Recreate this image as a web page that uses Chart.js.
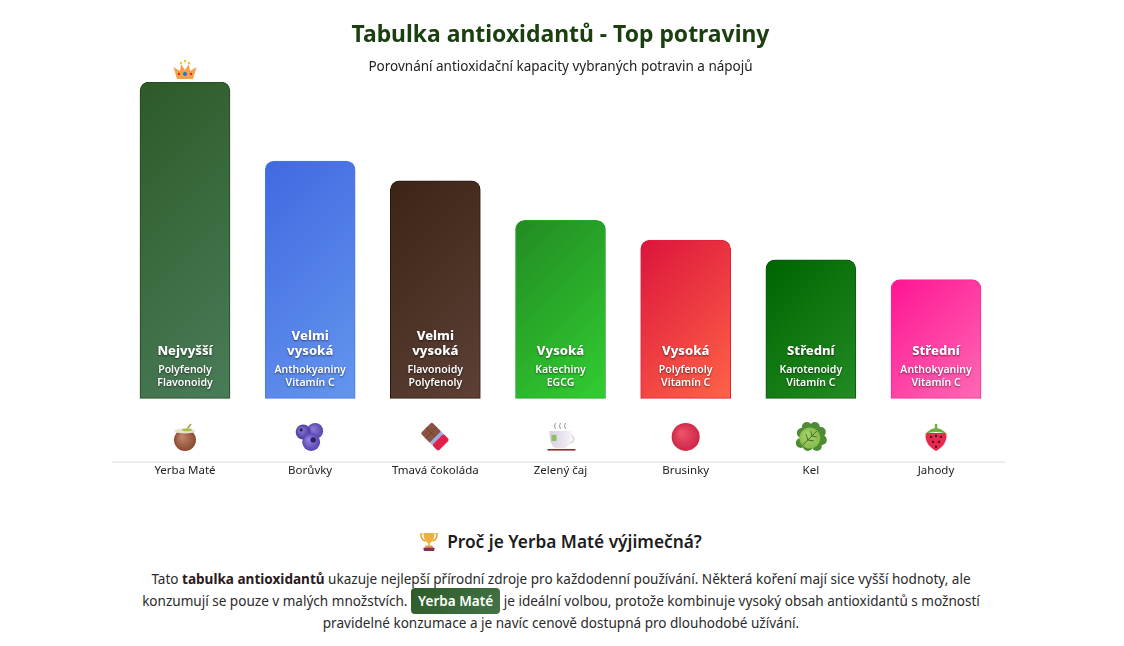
<!DOCTYPE html>
<html lang="cs">
<head>
<meta charset="utf-8">
<title>Tabulka antioxidantů</title>
<script src="https://cdn.jsdelivr.net/npm/chart.js@4/dist/chart.umd.min.js"></script>
<style>
  html, body { margin: 0; padding: 0; background: #fff; overflow: hidden; }
  body { width: 1124px; height: 646px; position: relative; font-family: "Noto Sans", sans-serif; color: #222; }
  #antioxChart { position: absolute; left: 0; top: 0; }
  #why { position: absolute; left: 0; top: 529px; width: 1122px; text-align: center; }
  #why h3 { margin: 0 0 13px; font-size: 17.3px; line-height: 26px; font-weight: 600; color: #1c1c1c; }
  #why h3 svg { vertical-align: -5px; margin-right: 9px; }
  #why p { margin: 0; font-size: 13.55px; line-height: 22px; color: #2a2a2a; }
  #why b { color: #2a1a20; }
  .badge { padding: 4px 7px; border-radius: 4px; color: #fff; font-weight: 600;
    background: linear-gradient(135deg, #2d5a27, #437448); }
</style>
</head>
<body>
<canvas id="antioxChart" width="1124" height="490"></canvas>
<div id="why">
  <h3><svg width="18" height="22" viewBox="0 0 20 22"><path d="M3 2H1c0 5 2 7 5 8M17 2h2c0 5-2 7-5 8" fill="none" stroke="#e0a030" stroke-width="1.6"/><path d="M4 1h12c0 7-2 10-5 11v3H9v-3C6 11 4 8 4 1z" fill="#f0b040"/><rect x="6" y="15" width="8" height="2" fill="#d89830"/><rect x="4" y="17" width="12" height="4" rx="1" fill="#8e2a4a"/></svg>Proč je Yerba Maté výjimečná?</h3>
  <p>Tato <b>tabulka antioxidantů</b> ukazuje nejlepší přírodní zdroje pro každodenní používání. Některá koření mají sice vyšší hodnoty, ale<br>
  konzumují se pouze v malých množstvích. <span class="badge">Yerba Maté</span> je ideální volbou, protože kombinuje vysoký obsah antioxidantů s možností<br>
  pravidelné konzumace a je navíc cenově dostupná pro dlouhodobé užívání.</p>
</div>
<script>
// chart data
const foods = ['Yerba Maté', 'Borůvky', 'Tmavá čokoláda', 'Zelený čaj', 'Brusinky', 'Kel', 'Jahody'];
const capacity = [80, 60, 55, 45, 40, 35, 30];
const levels = [['Nejvyšší'], ['Velmi', 'vysoká'], ['Velmi', 'vysoká'], ['Vysoká'], ['Vysoká'], ['Střední'], ['Střední']];
const compounds = [
  ['Polyfenoly', 'Flavonoidy'],
  ['Anthokyaniny', 'Vitamín C'],
  ['Flavonoidy', 'Polyfenoly'],
  ['Katechiny', 'EGCG'],
  ['Polyfenoly', 'Vitamín C'],
  ['Karotenoidy', 'Vitamín C'],
  ['Anthokyaniny', 'Vitamín C']
];

// bar colours
const colorFrom = ['#2d5a27', '#4169e1', '#3c2415', '#228b22', '#dc143c', '#006400', '#ff1493'];
const colorTo = ['#4a7c59', '#6495ed', '#5d4037', '#32cd32', '#ff6347', '#228b22', '#ff69b4'];
const colorEdge = ['#1f4a1c', '#4a78e4', '#2c170d', '#2aa52a', '#e0203f', '#0b5a0b', '#f82a98'];

const FONT = '"Noto Sans", sans-serif';

function barGradient(context) {
  const chart = context.chart;
  const i = context.dataIndex;
  if (!chart.chartArea) return colorFrom[i];
  const x = chart.scales.x.getPixelForValue(i);
  const top = chart.scales.y.getPixelForValue(capacity[i]);
  const base = chart.scales.y.getPixelForValue(0);
  const w = 90, h = base - top;
  const d = (w + h) / 4, cy = (top + base) / 2;
  const g = chart.ctx.createLinearGradient(x - d, cy - d, x + d, cy + d);
  g.addColorStop(0, colorFrom[i]);
  g.addColorStop(1, colorTo[i]);
  return g;
}

// little pictures instead of emoji, all drawn around (0,0)
function ball(c, x, y, r, light, dark) {
  const g = c.createRadialGradient(x - r * 0.3, y - r * 0.3, r * 0.1, x, y, r);
  g.addColorStop(0, light);
  g.addColorStop(1, dark);
  c.fillStyle = g;
  c.beginPath();
  c.arc(x, y, r, 0, Math.PI * 2);
  c.fill();
}

const icons = [
  function mate(c) {
    c.strokeStyle = '#a8a040'; c.lineWidth = 1.5;
    c.beginPath(); c.moveTo(2, -8); c.lineTo(6, -13); c.stroke();
    ball(c, 0, 3, 11, '#c08468', '#8a4a30');
    c.fillStyle = '#e8e0d0';
    c.beginPath(); c.ellipse(0, -6, 10.5, 2.6, 0, 0, Math.PI * 2); c.fill();
    c.fillStyle = '#a8c048';
    c.beginPath(); c.ellipse(2, -7, 5, 1.4, 0, 0, Math.PI * 2); c.fill();
  },
  function blueberry(c) {
    ball(c, 5, -6, 8, '#8a78d8', '#5a44a8');
    ball(c, -7, -5, 7.5, '#8a78d8', '#4a38a0');
    ball(c, 1, 5, 9, '#9080e0', '#5a44b0');
    c.fillStyle = '#2c2060';
    c.beginPath(); c.arc(-9, -7, 1.6, 0, Math.PI * 2); c.fill();
    c.beginPath(); c.arc(3, 3, 2.6, 0, Math.PI * 2); c.fill();
  },
  function chocolate(c) {
    c.save();
    c.rotate(-Math.PI / 4);
    c.fillStyle = '#8a5240';
    c.beginPath(); c.roundRect(-8, -13, 16, 14, 2); c.fill();
    c.strokeStyle = '#6e3e30'; c.lineWidth = 0.8;
    c.beginPath(); c.moveTo(0, -13); c.lineTo(0, 0); c.moveTo(-8, -6); c.lineTo(8, -6); c.stroke();
    c.fillStyle = '#e02048';
    c.beginPath(); c.roundRect(-8, 3, 16, 9, 2); c.fill();
    c.fillStyle = '#9ab0e0';
    c.fillRect(-8, 0, 16, 3.5);
    c.restore();
  },
  function tea(c) {
    c.strokeStyle = '#999'; c.lineWidth = 1;
    [-5, 0, 5].forEach(x => {
      c.beginPath(); c.moveTo(x, -14); c.quadraticCurveTo(x - 2, -11, x, -8); c.stroke();
    });
    c.strokeStyle = '#ddd'; c.lineWidth = 2;
    c.beginPath(); c.arc(9, 2, 4, 0, Math.PI * 2); c.stroke();
    const g = c.createLinearGradient(-10, 0, 12, 0);
    g.addColorStop(0, '#d8d0e0');
    g.addColorStop(1, '#f6f4f8');
    c.fillStyle = g;
    c.beginPath(); c.moveTo(-11, -6); c.lineTo(11, -6); c.quadraticCurveTo(11, 10, 4, 11); c.lineTo(-4, 11); c.quadraticCurveTo(-11, 10, -11, -6); c.fill();
    c.fillStyle = '#8fc060';
    c.fillRect(-9, -2, 5, 6);
    c.fillStyle = '#8e2a2a';
    c.fillRect(-13, 12, 28, 1.6);
  },
  function cranberry(c) {
    ball(c, 0, 0, 14, '#ee5068', '#cc2848');
  },
  function kale(c) {
    c.fillStyle = '#4f8a34';
    [[-9, -4], [-4, -10], [4, -10], [10, -5], [11, 3], [6, 9], [-3, 9], [-10, 6]].forEach(p => {
      c.beginPath(); c.arc(p[0], p[1], 5, 0, Math.PI * 2); c.fill();
    });
    ball(c, -1, 1, 10.5, '#a8d468', '#88bc4c');
    c.strokeStyle = '#3f6a28'; c.lineWidth = 1;
    c.beginPath(); c.moveTo(-8, 8); c.lineTo(6, -6);
    c.moveTo(-3, 3); c.lineTo(-5, -3); c.moveTo(-3, 3); c.lineTo(3, 4);
    c.moveTo(1, -1); c.lineTo(0, -6); c.moveTo(1, -1); c.lineTo(6, 0); c.stroke();
  },
  function strawberry(c) {
    c.fillStyle = '#e8284c';
    c.beginPath(); c.moveTo(0, 14);
    c.bezierCurveTo(-8, 10, -12, 2, -10, -4);
    c.lineTo(10, -4);
    c.bezierCurveTo(12, 2, 8, 10, 0, 14);
    c.fill();
    c.fillStyle = '#6fb040';
    c.beginPath(); c.moveTo(-11, -3); c.quadraticCurveTo(0, -15, 11, -3); c.quadraticCurveTo(0, -7, -11, -3); c.fill();
    c.fillRect(-1.2, -13, 2.4, 5);
    c.fillStyle = '#3a1020';
    [[-5, 0], [0, -1], [5, 0], [-3, 5], [3, 5], [0, 10]].forEach(p => {
      c.beginPath(); c.arc(p[0], p[1], 1.1, 0, Math.PI * 2); c.fill();
    });
  }
];

function crown(c) {
  c.fillStyle = '#f6a04a';
  c.beginPath();
  c.moveTo(-8, 8); c.lineTo(-11.5, -4); c.lineTo(-5, 0); c.lineTo(-4, -7); c.lineTo(0, -1);
  c.lineTo(4, -7); c.lineTo(5, 0); c.lineTo(11.5, -4); c.lineTo(8, 8);
  c.closePath();
  c.fill();
  c.fillStyle = '#fbbf3a';
  [[-4, -8], [0, -10], [4, -8]].forEach(p => {
    c.beginPath(); c.arc(p[0], p[1], 1.3, 0, Math.PI * 2); c.fill();
  });
  c.fillStyle = '#d8283c';
  c.beginPath(); c.arc(-6, 3, 1.2, 0, Math.PI * 2); c.arc(6, 3, 1.2, 0, Math.PI * 2); c.fill();
  c.fillStyle = '#2070e0';
  c.beginPath(); c.arc(0, 3, 2, 0, Math.PI * 2); c.fill();
}

// writes the labels inside the bars and draws the pictures and the long axis line
const barDecor = {
  id: 'barDecor',
  afterDatasetsDraw(chart) {
    const c = chart.ctx;
    const xs = chart.scales.x, ys = chart.scales.y;
    const base = ys.getPixelForValue(0);
    const axisY = chart.chartArea.bottom;

    c.save();
    c.strokeStyle = '#dcdcdc';
    c.lineWidth = 1;
    c.beginPath();
    c.moveTo(chart.chartArea.left - 10, axisY + 0.5);
    c.lineTo(chart.chartArea.right + 7, axisY + 0.5);
    c.stroke();
    c.restore();

    foods.forEach((food, i) => {
      const x = xs.getPixelForValue(i);
      c.save();
      c.textAlign = 'center';
      c.textBaseline = 'middle';
      c.fillStyle = '#fff';
      c.shadowColor = 'rgba(0,0,0,0.55)';
      c.shadowBlur = 2;
      c.shadowOffsetY = 1;
      c.font = '800 13px ' + FONT;
      levels[i].forEach((line, n) => {
        c.fillText(line, x, base - 47 - (levels[i].length - 1 - n) * 15);
      });
      c.font = '600 10.5px ' + FONT;
      compounds[i].forEach((line, n) => {
        c.fillText(line, x, base - 28 + n * 13);
      });
      c.restore();

      c.save();
      c.translate(x, (base + axisY) / 2 + 7);
      icons[i](c);
      c.restore();
    });

    c.save();
    c.translate(xs.getPixelForValue(0), ys.getPixelForValue(capacity[0]) - 11);
    crown(c);
    c.restore();
  }
};

new Chart(document.getElementById('antioxChart').getContext('2d'), {
  type: 'bar',
  data: {
    labels: foods,
    datasets: [{
      data: capacity,
      backgroundColor: barGradient,
      borderColor: colorEdge,
      borderWidth: 1,
      borderSkipped: false,
      borderRadius: { topLeft: 9, topRight: 9, bottomLeft: 0, bottomRight: 0 },
      barThickness: 90
    }]
  },
  options: {
    responsive: false,
    animation: false,
    layout: { padding: { top: 22, left: 122.4, right: 125.4, bottom: 10.6 } },
    scales: {
      x: {
        grid: { display: false, tickLength: 0 },
        border: { display: false },
        ticks: { color: '#222', padding: 2, maxRotation: 0, font: { family: FONT, size: 11.5 } }
      },
      y: { display: false, min: -16, max: 80 }
    },
    plugins: {
      legend: { display: false },
      tooltip: { enabled: false },
      title: {
        display: true,
        text: 'Tabulka antioxidantů - Top potraviny',
        color: '#1a4010',
        font: { family: FONT, size: 22.9, weight: '700', lineHeight: 1.2 },
        padding: { top: 0, bottom: 9.4 }
      },
      subtitle: {
        display: true,
        text: 'Porovnání antioxidační kapacity vybraných potravin a nápojů',
        color: '#222',
        font: { family: FONT, size: 13.5, lineHeight: 1.2 },
        padding: { top: 0, bottom: 6.9 }
      }
    }
  },
  plugins: [barDecor]
});
</script>
</body>
</html>
